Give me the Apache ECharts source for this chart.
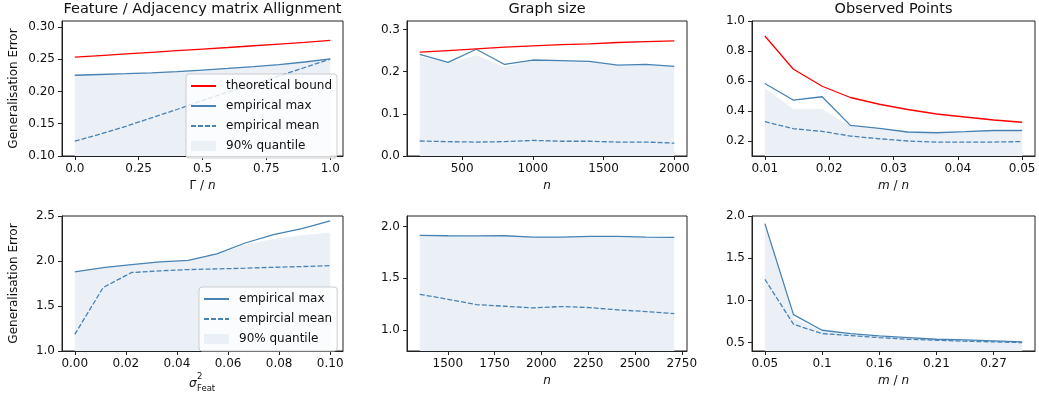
<!DOCTYPE html>
<html>
<head>
<meta charset="utf-8">
<script src="https://cdn.jsdelivr.net/npm/echarts@6/dist/echarts.min.js"></script>
<style>
  html, body { margin: 0; padding: 0; background: #fff; }
  #chart { width: 1039px; height: 396px; }
</style>
</head>
<body>
<div id="chart"></div>
<script>
// Feature / adjacency alignment
const gammaX = [0, 0.1, 0.2, 0.3, 0.4, 0.5, 0.6, 0.7, 0.8, 0.9, 1.0];
const boundAlign = [0.253, 0.2555, 0.258, 0.2605, 0.263, 0.2655, 0.268, 0.2707, 0.2733, 0.276, 0.279];
const maxAlign = [0.225, 0.2262, 0.2274, 0.2288, 0.2305, 0.233, 0.2356, 0.2384, 0.2415, 0.2455, 0.2503];
const quantAlign = [0.2245, 0.2257, 0.2269, 0.2283, 0.23, 0.2325, 0.2351, 0.2379, 0.241, 0.245, 0.2498];
const meanAlign = [0.123, 0.134, 0.146, 0.159, 0.172, 0.186, 0.199, 0.211, 0.224, 0.237, 0.25];

// Graph size
const nSmall = [200, 400, 600, 800, 1000, 1200, 1400, 1600, 1800, 2000];
const boundN = [0.246, 0.25, 0.254, 0.258, 0.261, 0.264, 0.266, 0.269, 0.271, 0.273];
const maxN = [0.241, 0.222, 0.253, 0.217, 0.2275, 0.226, 0.2244, 0.2156, 0.217, 0.2126];
const quantN = [0.235, 0.219, 0.238, 0.21, 0.225, 0.224, 0.222, 0.213, 0.215, 0.21];
const meanN = [0.0355, 0.034, 0.033, 0.034, 0.037, 0.035, 0.035, 0.033, 0.033, 0.0305];

// Observed points
const mObs = [0.01, 0.0144, 0.0189, 0.0233, 0.0278, 0.0322, 0.0367, 0.0411, 0.0456, 0.05];
const boundObs = [0.9, 0.68, 0.565, 0.49, 0.445, 0.41, 0.38, 0.36, 0.34, 0.325];
const maxObs = [0.583, 0.473, 0.495, 0.304, 0.284, 0.26, 0.255, 0.262, 0.27, 0.27];
const quantObs = [0.55, 0.41, 0.41, 0.295, 0.275, 0.255, 0.25, 0.255, 0.265, 0.265];
const meanObs = [0.329, 0.282, 0.264, 0.233, 0.215, 0.2, 0.193, 0.193, 0.193, 0.196];

// Feature noise
const sigX = [0, 0.0111, 0.0222, 0.0333, 0.0444, 0.0556, 0.0667, 0.0778, 0.0889, 0.1];
const maxSig = [1.879, 1.927, 1.96, 1.99, 2.008, 2.08, 2.2, 2.293, 2.36, 2.445];
const quantSig = [1.87, 1.92, 1.955, 1.985, 2.0, 2.07, 2.175, 2.24, 2.28, 2.31];
const meanSig = [1.184, 1.705, 1.872, 1.89, 1.905, 1.912, 1.92, 1.93, 1.938, 1.949];

// Larger graphs
const nBig = [1350, 1501, 1652, 1803, 1954, 2106, 2257, 2408, 2559, 2710];
const maxBig = [1.913, 1.91, 1.908, 1.91, 1.897, 1.897, 1.904, 1.904, 1.897, 1.894];
const quantBig = [1.905, 1.902, 1.9, 1.902, 1.89, 1.89, 1.897, 1.897, 1.89, 1.887];
const meanBig = [1.346, 1.298, 1.247, 1.231, 1.215, 1.228, 1.218, 1.196, 1.18, 1.16];

// Observed ratio
const ratioX = [0.05, 0.0778, 0.1056, 0.1333, 0.1611, 0.1889, 0.2167, 0.2444, 0.2722, 0.3];
const maxRatio = [1.909, 0.831, 0.646, 0.606, 0.579, 0.559, 0.539, 0.531, 0.519, 0.508];
const quantRatio = [1.88, 0.78, 0.63, 0.595, 0.57, 0.55, 0.533, 0.525, 0.515, 0.505];
const meanRatio = [1.25, 0.717, 0.606, 0.583, 0.559, 0.539, 0.527, 0.516, 0.508, 0.5];

// tick positions and labels
const xTicks = [
  [0, 0.25, 0.5, 0.75, 1.0],
  [500, 1000, 1500, 2000],
  [0.01, 0.02, 0.03, 0.04, 0.05],
  [0, 0.02, 0.04, 0.06, 0.08, 0.1],
  [1500, 1750, 2000, 2250, 2500, 2750],
  [0.05, 0.1056, 0.1611, 0.2167, 0.2722]
];
const xLabels = [
  ["0.0", "0.25", "0.5", "0.75", "1.0"],
  ["500", "1000", "1500", "2000"],
  ["0.01", "0.02", "0.03", "0.04", "0.05"],
  ["0.00", "0.02", "0.04", "0.06", "0.08", "0.10"],
  ["1500", "1750", "2000", "2250", "2500", "2750"],
  ["0.05", "0.1", "0.16", "0.21", "0.27"]
];
const yTicks = [
  [0.1, 0.15, 0.2, 0.25, 0.3],
  [0, 0.1, 0.2, 0.3],
  [0.2, 0.4, 0.6, 0.8, 1.0],
  [1.0, 1.5, 2.0, 2.5],
  [1.0, 1.5, 2.0],
  [0.5, 1.0, 1.5, 2.0]
];
const yLabels = [
  ["0.10", "0.15", "0.20", "0.25", "0.30"],
  ["0.0", "0.1", "0.2", "0.3"],
  ["0.2", "0.4", "0.6", "0.8", "1.0"],
  ["1.0", "1.5", "2.0", "2.5"],
  ["1.0", "1.5", "2.0"],
  ["0.5", "1.0", "1.5", "2.0"]
];
const xRanges = [[-0.05, 1.05], [110, 2090], [0.008, 0.052], [-0.005, 0.105], [1282, 2778], [0.0375, 0.3125]];
const yRanges = [[0.1, 0.309], [0, 0.32], [0.1, 1.0], [1.0, 2.5], [0.8, 2.1], [0.4, 2.0]];

const FONT = "DejaVu Sans";
const BLUE = "#4682b4";
const RED = "#ff0000";
const FILL = "#ebf0f7";
const INK = "#111";

const grids = [
  { left: 62, top: 21, width: 281, height: 135 },
  { left: 407, top: 21, width: 280, height: 135 },
  { left: 752, top: 21, width: 283, height: 135 },
  { left: 62, top: 216, width: 281, height: 135 },
  { left: 407, top: 216, width: 280, height: 135 },
  { left: 752, top: 216, width: 283, height: 135 }
].map(g => Object.assign(g, { show: true, borderColor: "#222", borderWidth: 1, outerBoundsMode: "none" }));

function pickLabel(ticks, labels, v) {
  let best = 0;
  ticks.forEach((t, i) => { if (Math.abs(t - v) < Math.abs(ticks[best] - v)) best = i; });
  return labels[best];
}

function axis(i, ranges, ticks, labels, extra) {
  return Object.assign({
    type: "value",
    gridIndex: i,
    min: ranges[i][0],
    max: ranges[i][1],
    axisLine: { show: true, onZero: false, lineStyle: { color: "#222", width: 1 } },
    axisTick: { show: true, length: 4, customValues: ticks[i], lineStyle: { color: "#222" } },
    axisLabel: {
      customValues: ticks[i],
      formatter: v => pickLabel(ticks[i], labels[i], v),
      color: INK, fontFamily: FONT, fontSize: 12, margin: 7
    },
    splitLine: { show: false }
  }, extra || {});
}

const nameStyle = {
  color: INK, fontFamily: FONT, fontSize: 12,
  rich: {
    r: { fontFamily: FONT, fontSize: 12, color: INK },
    i: { fontFamily: FONT, fontSize: 12, color: INK, fontStyle: "italic" }
  }
};
const xNames = ["{r|Γ / }{i|n}", "{i|n}", "{i|m}{r| / }{i|n}", "", "{i|n}", "{i|m}{r| / }{i|n}"];

const xAxes = xNames.map((nm, i) => axis(i, xRanges, xTicks, xLabels, {
  name: nm, nameLocation: "middle", nameGap: 24, nameTextStyle: nameStyle
}));
const yAxes = [0, 1, 2, 3, 4, 5].map(i => axis(i, yRanges, yTicks, yLabels,
  (i === 0 || i === 3) ? {
    name: "Generalisation Error", nameLocation: "middle", nameGap: 42, nameRotate: 90,
    nameTextStyle: { color: INK, fontFamily: FONT, fontSize: 12 }
  } : {}));

function pairs(xs, ys) { return xs.map((x, k) => [x, ys[k]]); }

function panelSeries(i, xs, quant, max, mean, bound, meanName) {
  const list = [
    {
      name: "90% quantile", type: "line", xAxisIndex: i, yAxisIndex: i,
      data: pairs(xs, quant), symbol: "none", color: FILL,
      lineStyle: { width: 1, color: FILL },
      areaStyle: { color: FILL, opacity: 1 }, z: 1, silent: true
    },
    {
      name: "empirical max", type: "line", xAxisIndex: i, yAxisIndex: i,
      data: pairs(xs, max), symbol: "none", color: BLUE,
      lineStyle: { width: 1.3, color: BLUE }, z: 3, silent: true
    },
    {
      name: meanName, type: "line", xAxisIndex: i, yAxisIndex: i,
      data: pairs(xs, mean), symbol: "none", color: BLUE,
      lineStyle: { width: 1.3, color: BLUE, type: [5, 2] }, z: 3, silent: true
    }
  ];
  if (bound) {
    list.push({
      name: "theoretical bound", type: "line", xAxisIndex: i, yAxisIndex: i,
      data: pairs(xs, bound), symbol: "none", color: RED,
      lineStyle: { width: 1.3, color: RED }, z: 4, silent: true
    });
  }
  return list;
}

const series = [].concat(
  panelSeries(0, gammaX, quantAlign, maxAlign, meanAlign, boundAlign, "empirical mean"),
  panelSeries(1, nSmall, quantN, maxN, meanN, boundN, "empirical mean"),
  panelSeries(2, mObs, quantObs, maxObs, meanObs, boundObs, "empirical mean"),
  panelSeries(3, sigX, quantSig, maxSig, meanSig, null, "empircial mean"),
  panelSeries(4, nBig, quantBig, maxBig, meanBig, null, "empirical mean"),
  panelSeries(5, ratioX, quantRatio, maxRatio, meanRatio, null, "empirical mean")
);

const legendBase = {
  orient: "vertical", itemWidth: 25, itemHeight: 10, itemGap: 8,
  padding: [6, 5, 6, 4], backgroundColor: "rgba(255,255,255,0.8)",
  borderColor: "#cccccc", borderWidth: 1, borderRadius: 3, selectedMode: false,
  itemStyle: { opacity: 0 },
  textStyle: { fontFamily: FONT, fontSize: 12, color: INK, padding: [0, 0, 0, 5] }
};
const quantItem = { name: "90% quantile", icon: "rect", itemStyle: { color: FILL, opacity: 1 } };

const titleTexts = ["Feature / Adjacency matrix Allignment", "Graph size", "Observed Points"];
const titles = titleTexts.map((t, i) => ({
  type: "text",
  x: grids[i].left + grids[i].width / 2, y: 9,
  style: {
    text: t, fill: INK, font: '14.5px "DejaVu Sans"',
    textAlign: "center", textVerticalAlign: "middle", align: "center", verticalAlign: "middle"
  }
}));

function label(x, y, text, size, italic) {
  return {
    type: "text", x: x, y: y,
    style: {
      text: text, fill: INK,
      font: (italic ? "italic " : "") + size + 'px "DejaVu Sans"',
      textAlign: "left", textVerticalAlign: "middle", align: "left", verticalAlign: "middle"
    }
  };
}

const chart = echarts.init(document.getElementById("chart"), null, { renderer: "canvas" });
chart.setOption({
  backgroundColor: "#fff",
  animation: false,
  grid: grids,
  xAxis: xAxes,
  yAxis: yAxes,
  series: series,
  legend: [
    Object.assign({}, legendBase, {
      left: 186, top: 74,
      data: [{ name: "theoretical bound" }, { name: "empirical max" }, { name: "empirical mean" }, quantItem]
    }),
    Object.assign({}, legendBase, {
      left: 199, top: 287,
      data: [{ name: "empirical max" }, { name: "empircial mean" }, quantItem]
    })
  ],
  graphic: titles.concat([
    label(189, 384, "σ", 12, true),
    label(197, 377, "2", 8.5, false),
    label(197, 389, "Feat", 8.5, false)
  ])
});
</script>
</body>
</html>
